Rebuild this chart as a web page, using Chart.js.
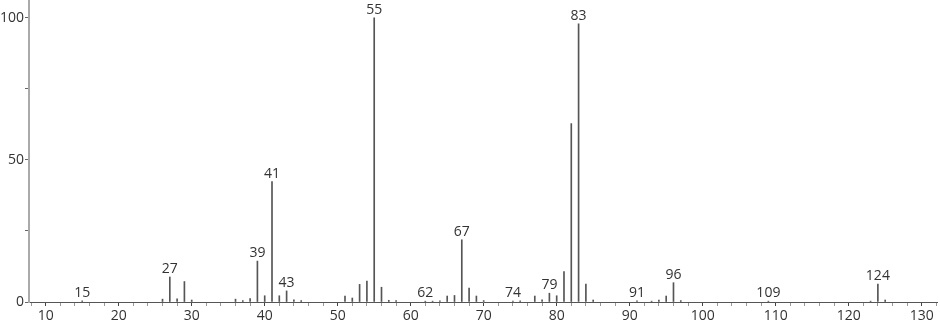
<!DOCTYPE html>
<html>
<head>
<meta charset="utf-8">
<script src="https://cdn.jsdelivr.net/npm/chart.js@4"></script>
<style>
  html, body { margin: 0; padding: 0; background: #fff; }
  #wrap { width: 940px; height: 324px; }
</style>
</head>
<body>
<div id="wrap"><canvas id="spectrum"></canvas></div>
<script>
// m/z values and relative intensities
const mz = [15, 26, 27, 28, 29, 30, 36, 37, 38, 39, 40, 41, 42, 43, 44, 45,
            51, 52, 53, 54, 55, 56, 57, 58, 62, 63, 64, 65, 66, 67, 68, 69, 70,
            74, 75, 77, 78, 79, 80, 81, 82, 83, 84, 85,
            91, 93, 94, 95, 96, 97, 109, 123, 124, 125];
const intensity = [0.4, 1.0, 8.8, 1.1, 7.2, 0.7, 1.0, 0.5, 1.2, 14.4, 2.2, 42.4, 2.2, 3.9, 0.8, 0.5,
                   2.1, 1.4, 6.2, 7.4, 100, 5.2, 0.6, 0.5, 0.3, 0.3, 0.4, 2.1, 2.3, 21.9, 4.9, 2.1, 0.5,
                   0.3, 0.4, 2.1, 0.8, 3.1, 2.2, 10.7, 62.8, 97.9, 6.3, 0.7,
                   0.4, 0.3, 0.7, 2.1, 6.8, 0.5, 0.3, 0.3, 6.3, 0.7];
const labelledPeaks = [15, 27, 39, 41, 43, 55, 62, 67, 74, 79, 83, 91, 96, 109, 124];
const xTicks = [];
for (let v = 8; v <= 132; v += 2) xTicks.push(v);
const yTicks = [0, 25, 50, 75, 100];
const yLabels = [0, 50, 100];

const FONT = '"Open Sans", "DejaVu Sans", sans-serif';

// draws the m/z number over the labelled peaks
const peakLabels = {
    id: 'peakLabels',
    afterDatasetsDraw(chart) {
        const ctx = chart.ctx;
        const meta = chart.getDatasetMeta(0);
        ctx.save();
        ctx.font = '14px ' + FONT;
        ctx.fillStyle = '#333';
        ctx.textAlign = 'center';
        ctx.textBaseline = 'bottom';
        meta.data.forEach((bar, i) => {
            if (labelledPeaks.includes(mz[i])) {
                ctx.fillText(String(mz[i]), bar.x, bar.y - 1);
            }
        });
        ctx.restore();
    }
};

new Chart(document.getElementById('spectrum').getContext('2d'), {
    type: 'bar',
    data: {
        datasets: [{
            data: mz.map((m, i) => ({ x: m, y: intensity[i] })),
            backgroundColor: '#555',
            barThickness: 1,
            borderWidth: 0
        }]
    },
    options: {
        responsive: true,
        maintainAspectRatio: false,
        animation: false,
        layout: { padding: { top: 0, right: 3, left: 0, bottom: 0 } },
        plugins: { legend: { display: false }, tooltip: { enabled: false } },
        scales: {
            x: {
                type: 'linear',
                offset: false,
                min: 7.71,
                max: 132.1,
                afterBuildTicks: axis => { axis.ticks = xTicks.map(v => ({ value: v })); },
                afterFit: scale => {
                    scale.height = 22;
                    scale.paddingLeft = 0;
                    scale.paddingRight = 0;
                },
                border: { color: '#555', width: 1 },
                grid: {
                    offset: false,
                    drawOnChartArea: false,
                    tickLength: 4,
                    tickColor: c => (c.tick && c.tick.value % 10 === 0) ? '#444' : '#999'
                },
                ticks: {
                    autoSkip: false,
                    maxRotation: 0,
                    padding: 2,
                    color: '#333',
                    font: { family: FONT, size: 14 },
                    callback: v => (v % 10 === 0 ? String(v) : '')
                }
            },
            y: {
                min: 0,
                max: 106.3,
                afterBuildTicks: axis => { axis.ticks = yTicks.map(v => ({ value: v })); },
                afterFit: scale => {
                    scale.width = 29;
                    scale.paddingTop = 0;
                    scale.paddingBottom = 0;
                },
                border: { color: '#aaa', width: 2 },
                grid: {
                    drawOnChartArea: false,
                    tickLength: 4,
                    tickColor: '#666'
                },
                ticks: {
                    padding: 1,
                    color: '#333',
                    font: { family: FONT, size: 14 },
                    callback: v => (yLabels.includes(v) ? String(v) : '')
                }
            }
        }
    },
    plugins: [peakLabels]
});
</script>
</body>
</html>
